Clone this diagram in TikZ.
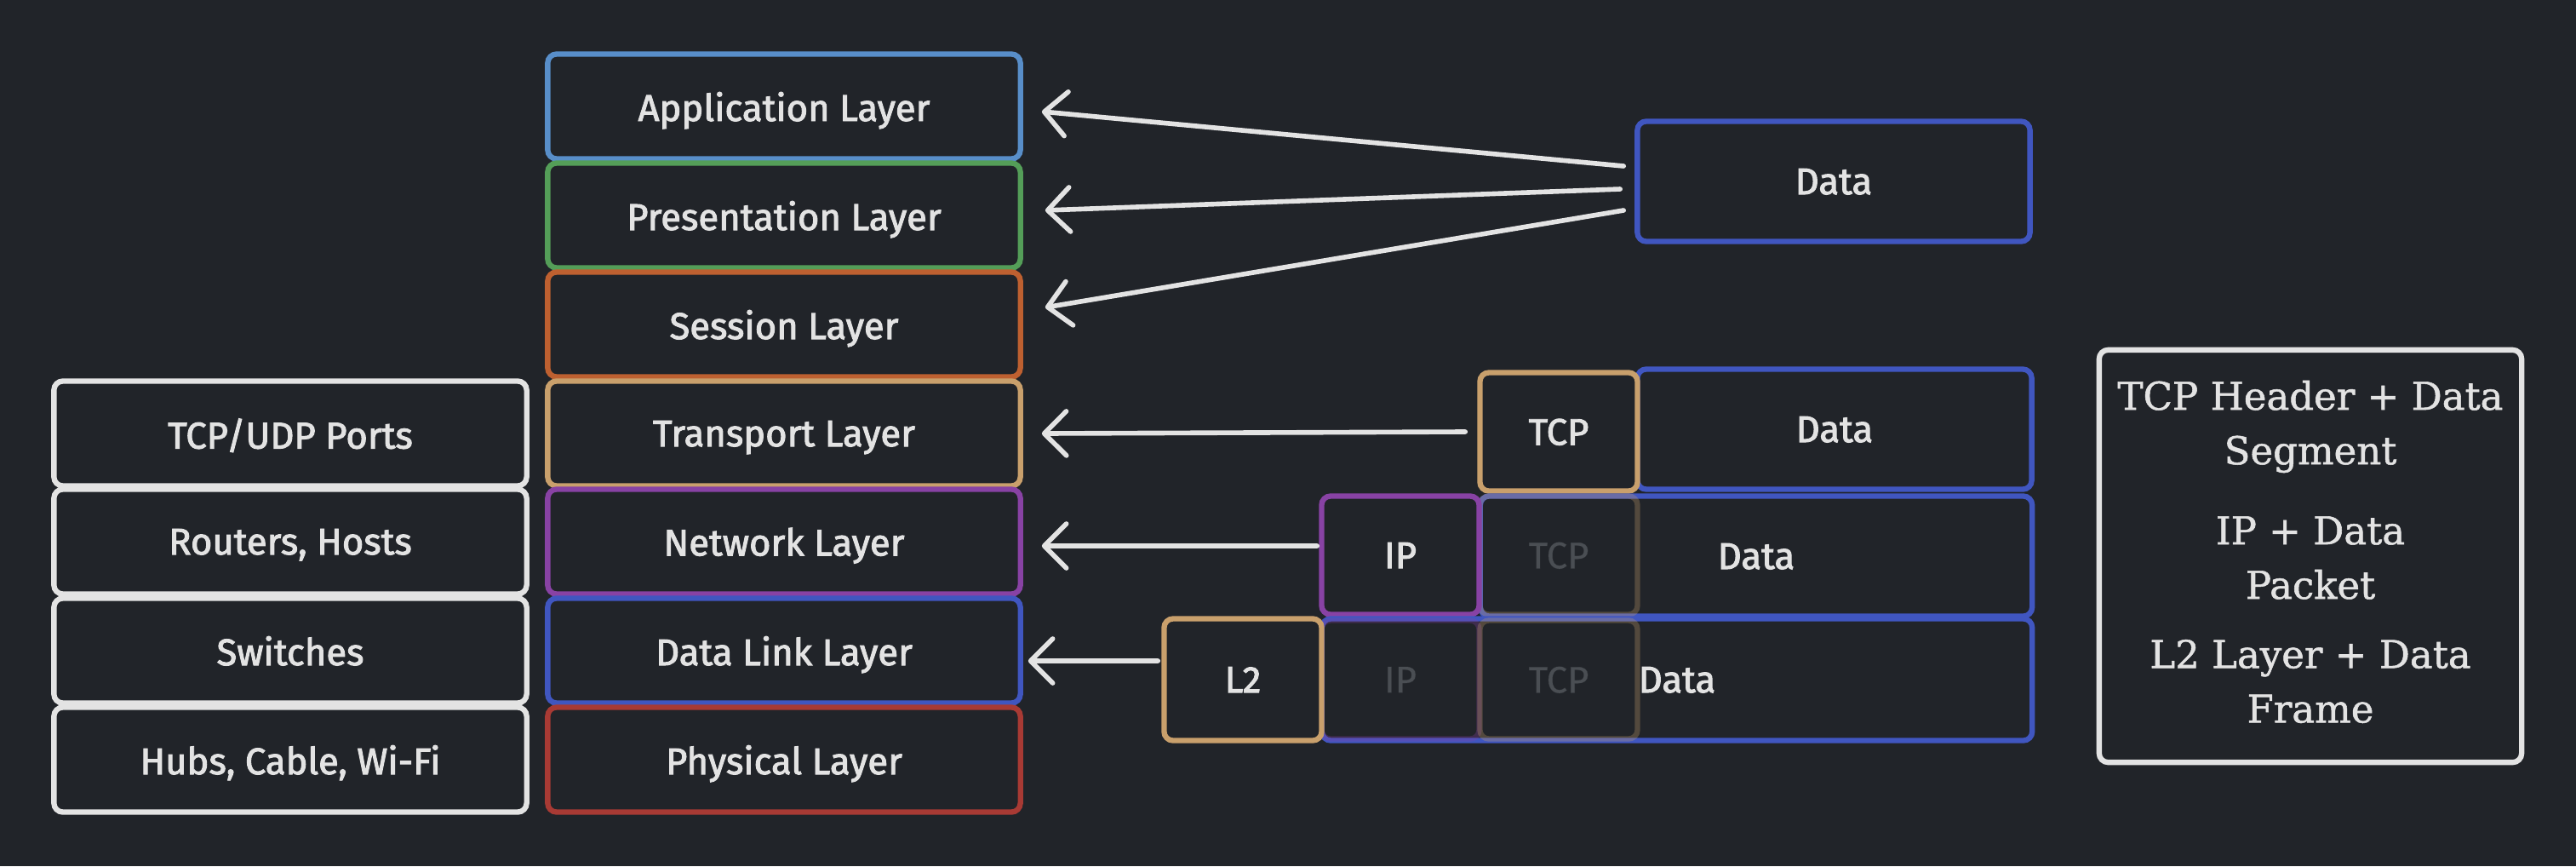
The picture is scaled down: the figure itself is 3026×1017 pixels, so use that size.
\documentclass[tikz,border=0pt]{standalone}
\usepackage{fontspec}
\setmainfont{Fira Sans}[FakeBold=2.2]
\newfontfamily\legendfont{DejaVu Serif}[FakeBold=1.2]
\usetikzlibrary{arrows.meta,calc}
\definecolor{bg}{RGB}{33,36,41}
\definecolor{txt}{RGB}{227,227,227}
\definecolor{cApp}{RGB}{88,142,201}
\definecolor{cPres}{RGB}{84,158,88}
\definecolor{cSess}{RGB}{190,96,48}
\definecolor{cTrans}{RGB}{201,160,108}
\definecolor{cNet}{RGB}{136,66,164}
\definecolor{cLink}{RGB}{64,86,192}
\definecolor{cPhys}{RGB}{168,58,52}
\definecolor{faded}{RGB}{74,78,83}
\begin{document}
\begin{tikzpicture}[x=0.01cm,y=-0.01cm,
  box/.style={draw, line width=1.8pt, rounded corners=3pt, fill=bg, text=txt, inner sep=0pt, text depth=0pt, font=\fontsize{12.4}{15}\selectfont},
  layer/.style={box, minimum width=5.55cm, minimum height=1.23cm},
  dev/.style={layer, draw=txt},
  pkt/.style={box, minimum width=1.85cm, minimum height=1.39cm},
  ghost/.style={pkt, draw opacity=0.3, text=faded, fill=none},
  payload/.style={box, draw=cLink, minimum height=1.41cm},
  legendtext/.style={text=txt, align=center, inner sep=0pt, font=\legendfont\fontsize{12.8}{18.2}\selectfont},
  arr/.style={draw=txt, line width=1.6pt, line cap=round, -{Straight Barb[length=2.6mm,width=5.2mm,line cap=round,line join=round]}},
]
\useasboundingbox (0,0) rectangle (3026,1017);
\fill[bg] (0,0) rectangle (3026,1017);

% OSI layers
\node[layer,draw=cApp]   (app)   at (921,125) {Application Layer};
\node[layer,draw=cPres]  (pres)  at (921,253) {Presentation Layer};
\node[layer,draw=cSess]  (sess)  at (921,381) {Session Layer};
\node[layer,draw=cTrans] (trans) at (921,509) {Transport Layer};
\node[layer,draw=cNet]   (net)   at (921,636) {Network Layer};
\node[layer,draw=cLink]  (link)  at (921,764) {Data Link Layer};
\node[layer,draw=cPhys]  (phys)  at (921,892) {Physical Layer};

% devices
\node[dev] (ports)    at (341,509) {TCP/UDP Ports};
\node[dev] (routers)  at (341,636) {Routers, Hosts};
\node[dev] (switches) at (341,764) {Switches};
\node[dev] (hubs)     at (341,892) {Hubs, Cable, Wi-Fi};

% data (application)
\node[payload, minimum width=4.61cm] (dataA) at (2154,213) {Data};

% segment
\node[payload, minimum width=4.63cm] (data1) at (2155,504) {Data};
\node[pkt, draw=cTrans] (tcp1) at (1831,507) {TCP};

% packet
\node[payload, minimum width=6.48cm] (data2) at (2063,653) {Data};
\node[ghost, draw=cTrans] (tcp2) at (1831,652) {TCP};
\node[pkt, draw=cNet] (ip2) at (1645,652) {IP};

% frame
\node[payload, minimum width=8.34cm, minimum height=1.43cm] (data3) at (1970,798) {Data};
\node[ghost, draw=cNet] (ip3) at (1645,798) {IP};
\node[ghost, draw=cTrans] (tcp3) at (1831,798) {TCP};
\node[pkt, draw=cTrans, minimum height=1.43cm] (l2) at (1460,798) {L2};

% arrows
\draw[arr] ($(dataA.west)+(-13,-18)$) -- ([xshift=0.22cm,yshift=-0.06cm]app.east);
\draw[arr] ($(dataA.west)+(-17,9)$) -- ([xshift=0.26cm,yshift=0.06cm]pres.east);
\draw[arr] ($(dataA.west)+(-13,34)$) -- ([xshift=0.26cm,yshift=0.2cm]sess.east);
\draw[arr] ([xshift=-0.14cm]tcp1.west) -- ([xshift=0.22cm]trans.east);
\draw[arr] ([xshift=-0.02cm,yshift=0.11cm]ip2.west) -- ([xshift=0.22cm,yshift=-0.05cm]net.east);
\draw[arr] ([xshift=-0.04cm,yshift=0.22cm]l2.west) -- ([xshift=0.06cm,yshift=-0.12cm]link.east);

% legend
\node[box, draw=txt, minimum width=4.96cm, minimum height=4.84cm] (legend) at (2714,653) {};
\node[legendtext] (segment) at (2714,501) {TCP Header + Data\\Segment};
\node[legendtext] (packet)  at (2714,655) {IP + Data\\Packet};
\node[legendtext] (frame)   at (2714,800) {L2 Layer + Data\\Frame};
\end{tikzpicture}
\end{document}
